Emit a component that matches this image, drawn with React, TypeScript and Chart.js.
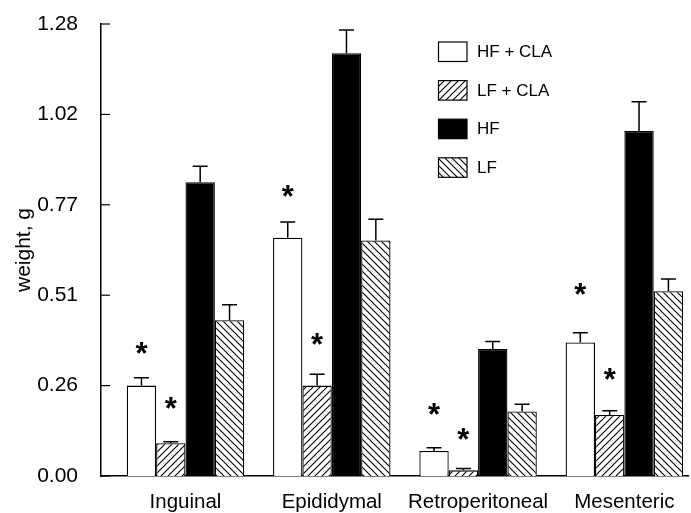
import React, { useEffect, useRef } from "react";
import { Chart, registerables } from "chart.js";

Chart.register(...registerables);

const categories = ["Inguinal", "Epididymal", "Retroperitoneal", "Mesenteric"];
const seriesNames = ["HF + CLA", "LF + CLA", "HF", "LF"];
const hfClaValues = [0.256, 0.675, 0.071, 0.378];
const hfClaErrors = [0.022, 0.044, 0.009, 0.028];
const lfClaValues = [0.093, 0.256, 0.016, 0.173];
const lfClaErrors = [0.004, 0.032, 0.005, 0.012];
const hfValues = [0.832, 1.197, 0.36, 0.977];
const hfErrors = [0.045, 0.066, 0.021, 0.083];
const lfValues = [0.441, 0.667, 0.183, 0.523];
const lfErrors = [0.044, 0.06, 0.02, 0.035];
// heights (in g) at which the significance asterisks sit; null = none
const hfClaStarLevels = [0.356, 0.801, 0.185, 0.523];
const lfClaStarLevels = [0.202, 0.381, 0.113, 0.282];
const noStarLevels = [null, null, null, null];
const yTickValues = [0, 0.256, 0.512, 0.768, 1.024, 1.28];
const yTitle = "weight, g";

const FONT = "Arial, 'Liberation Sans', sans-serif";

function makeHatch(dir: "up" | "down") {
  const s = 7;
  const c = document.createElement("canvas");
  c.width = s;
  c.height = s;
  const g = c.getContext("2d")!;
  g.fillStyle = "#ffffff";
  g.fillRect(0, 0, s, s);
  g.strokeStyle = "#000000";
  g.lineWidth = 1.1;
  g.beginPath();
  if (dir === "up") {
    g.moveTo(-1, s + 1);
    g.lineTo(s + 1, -1);
    g.moveTo(-2, 2);
    g.lineTo(2, -2);
    g.moveTo(s - 2, s + 2);
    g.lineTo(s + 2, s - 2);
  } else {
    g.moveTo(-1, -1);
    g.lineTo(s + 1, s + 1);
    g.moveTo(-2, s - 2);
    g.lineTo(2, s + 2);
    g.moveTo(s - 2, -2);
    g.lineTo(s + 2, 2);
  }
  g.stroke();
  return g.createPattern(c, "repeat")!;
}

export default function App() {
  const ref = useRef<HTMLCanvasElement>(null);

  useEffect(() => {
    const canvas = ref.current!;
    const ctx = canvas.getContext("2d")!;
    const upHatch = makeHatch("up");
    const downHatch = makeHatch("down");

    const fills = ["#ffffff", upHatch, "#000000", downHatch];
    const values = [hfClaValues, lfClaValues, hfValues, lfValues];
    const errors = [hfClaErrors, lfClaErrors, hfErrors, lfErrors];
    const stars = [hfClaStarLevels, lfClaStarLevels, noStarLevels, noStarLevels];

    const datasets = seriesNames.map((name, i) => ({
      label: name,
      data: values[i].map((v, j) => ({ x: j, y: v })),
      backgroundColor: fills[i] as any,
      borderColor: "#000000",
      borderWidth: 1.3,
      categoryPercentage: 0.803,
      barPercentage: 1.0,
    }));

    const errorPlugin = {
      id: "errorBars",
      afterDatasetsDraw(chart: any) {
        const c = chart.ctx;
        const yScale = chart.scales.y;
        c.save();
        c.strokeStyle = "#000000";
        c.lineWidth = 1.5;
        chart.data.datasets.forEach((_ds: any, di: number) => {
          const meta = chart.getDatasetMeta(di);
          meta.data.forEach((el: any, j: number) => {
            const v = values[di][j];
            const e = errors[di][j];
            const top = yScale.getPixelForValue(v + e);
            c.beginPath();
            c.moveTo(el.x, el.y);
            c.lineTo(el.x, top);
            c.moveTo(el.x - 7.5, top);
            c.lineTo(el.x + 7.5, top);
            c.stroke();
            const lvl = stars[di][j];
            if (lvl !== null && lvl !== undefined) {
              const sy = yScale.getPixelForValue(lvl);
              c.fillStyle = "#000000";
              c.font = `bold 31px ${FONT}`;
              c.textAlign = "center";
              c.textBaseline = "alphabetic";
              c.fillText("*", el.x, sy + 14);
            }
          });
        });
        c.restore();
      },
    };

    const tickPlugin = {
      id: "innerTicks",
      afterDraw(chart: any) {
        const c = chart.ctx;
        const yScale = chart.scales.y;
        const left = chart.chartArea.left;
        c.save();
        c.strokeStyle = "#000000";
        c.lineWidth = 1.2;
        yTickValues.forEach((v) => {
          const y = yScale.getPixelForValue(v);
          c.beginPath();
          c.moveTo(left, y);
          c.lineTo(left + 9, y);
          c.stroke();
        });
        c.restore();
      },
    };

    const legendPlugin = {
      id: "customLegend",
      afterDraw(chart: any) {
        const c = chart.ctx;
        c.save();
        const bx = 438.5;
        const by0 = 42;
        const gap = 38.6;
        seriesNames.forEach((name, i) => {
          const y = by0 + i * gap;
          c.fillStyle = fills[i] as any;
          c.fillRect(bx, y, 28.5, 19.5);
          c.strokeStyle = "#000000";
          c.lineWidth = 1.2;
          c.strokeRect(bx, y, 28.5, 19.5);
          c.fillStyle = "#000000";
          c.font = `17px ${FONT}`;
          c.textAlign = "left";
          c.textBaseline = "middle";
          c.fillText(name, 477, y + 10.5);
        });
        c.restore();
      },
    };

    const chart = new Chart(ctx, {
      type: "bar",
      data: { datasets: datasets as any },
      options: {
        animation: false,
        responsive: false,
        maintainAspectRatio: false,
        layout: { padding: { left: 0, right: 3, top: 24, bottom: 0 } },
        plugins: {
          legend: { display: false },
          tooltip: { enabled: false },
        },
        scales: {
          x: {
            type: "linear",
            offset: false,
            min: -0.5776,
            max: 3.435,
            afterBuildTicks: (scale: any) => {
              scale.ticks = categories.map((_, i) => ({ value: i }));
            },
            afterFit: (scale: any) => {
              scale.height = 37;
              scale.paddingLeft = 0;
              scale.paddingRight = 0;
            },
            ticks: {
              callback: (v: any) => categories[v as number] ?? "",
              color: "#000000",
              font: { family: FONT, size: 20.5 },
              padding: 14,
              maxRotation: 0,
              autoSkip: false,
            },
            grid: { display: false, drawTicks: false, offset: false },
            border: { display: true, color: "#000000", width: 1.5 },
          },
          y: {
            min: 0,
            max: 1.28,
            afterBuildTicks: (scale: any) => {
              scale.ticks = yTickValues.map((v) => ({ value: v }));
            },
            afterFit: (scale: any) => {
              scale.width = 101;
              scale.paddingTop = 0;
              scale.paddingBottom = 0;
            },
            ticks: {
              callback: (v: any) => Number(v).toFixed(2),
              color: "#000000",
              font: { family: FONT, size: 21 },
              padding: 23,
            },
            grid: { display: false, drawTicks: false },
            border: { display: true, color: "#000000", width: 1.5 },
            title: {
              display: true,
              text: yTitle,
              color: "#000000",
              font: { family: FONT, size: 21 },
              padding: { top: 12, bottom: 0 },
            },
          },
        },
      },
      plugins: [errorPlugin, tickPlugin, legendPlugin],
    });

    return () => chart.destroy();
  }, []);

  return (
    <div style={{ position: "absolute", left: 0, top: 0, width: 691, height: 513, background: "#ffffff" }}>
      <canvas ref={ref} width={691} height={513} style={{ display: "block", width: 691, height: 513 }} />
    </div>
  );
}
